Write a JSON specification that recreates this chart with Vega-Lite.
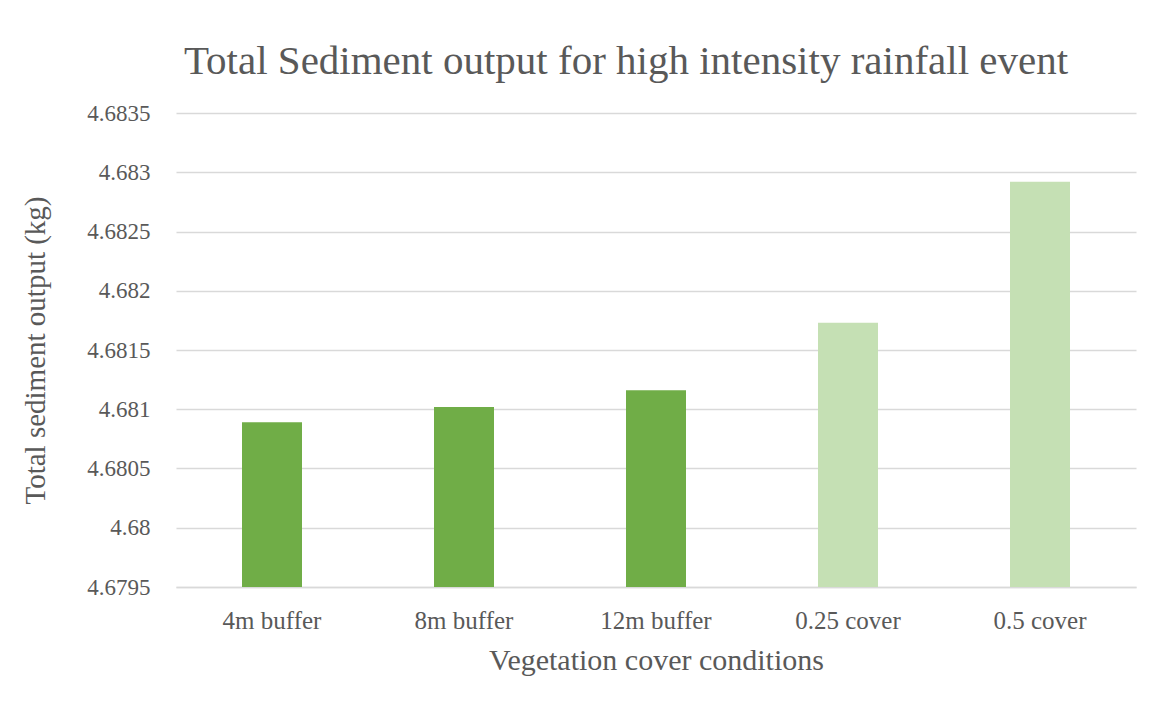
{
  "$schema": "https://vega.github.io/schema/vega-lite/v6.json",
  "width": 960,
  "height": 474,
  "autosize": "none",
  "padding": {"left": 176, "top": 113, "right": 21, "bottom": 121},
  "background": "white",
  "title": {
    "text": "Total Sediment output for high intensity rainfall event",
    "font": "Liberation Serif",
    "fontSize": 41,
    "fontWeight": "normal",
    "color": "#595959",
    "anchor": "middle",
    "dx": -30,
    "offset": 19
  },
  "data": {
    "values": [
      {"condition": "4m buffer", "output": 4.68089, "group": "buffer"},
      {"condition": "8m buffer", "output": 4.68102, "group": "buffer"},
      {"condition": "12m buffer", "output": 4.68116, "group": "buffer"},
      {"condition": "0.25 cover", "output": 4.68173, "group": "cover"},
      {"condition": "0.5 cover", "output": 4.68292, "group": "cover"}
    ]
  },
  "mark": {"type": "bar", "clip": true},
  "encoding": {
    "x": {
      "field": "condition",
      "type": "nominal",
      "sort": null,
      "scale": {"paddingInner": 0.6875, "paddingOuter": 0.34375},
      "axis": {
        "title": "Vegetation cover conditions",
        "titleFont": "Liberation Serif",
        "titleFontSize": 30,
        "titleFontWeight": "normal",
        "titleColor": "#595959",
        "titlePadding": 12,
        "labelFont": "Liberation Serif",
        "labelFontSize": 25,
        "labelColor": "#595959",
        "labelAngle": 0,
        "labelPadding": 21,
        "ticks": false,
        "domainColor": "#D9D9D9",
        "domainWidth": 1.5
      }
    },
    "y": {
      "field": "output",
      "type": "quantitative",
      "scale": {"domain": [4.6795, 4.6835], "zero": false, "nice": false},
      "axis": {
        "title": "Total sediment output (kg)",
        "titleFont": "Liberation Serif",
        "titleFontSize": 29,
        "titleFontWeight": "normal",
        "titleColor": "#595959",
        "titlePadding": 36,
        "values": [4.6795, 4.68, 4.6805, 4.681, 4.6815, 4.682, 4.6825, 4.683, 4.6835],
        "format": ".4~f",
        "labelFont": "Liberation Serif",
        "labelFontSize": 23,
        "labelColor": "#595959",
        "labelPadding": 26,
        "ticks": false,
        "domain": false,
        "gridColor": "#D9D9D9",
        "gridWidth": 1.5
      }
    },
    "color": {
      "field": "group",
      "type": "nominal",
      "scale": {"domain": ["buffer", "cover"], "range": ["#70AD47", "#C5E0B4"]},
      "legend": null
    }
  },
  "config": {"view": {"stroke": null}}
}
